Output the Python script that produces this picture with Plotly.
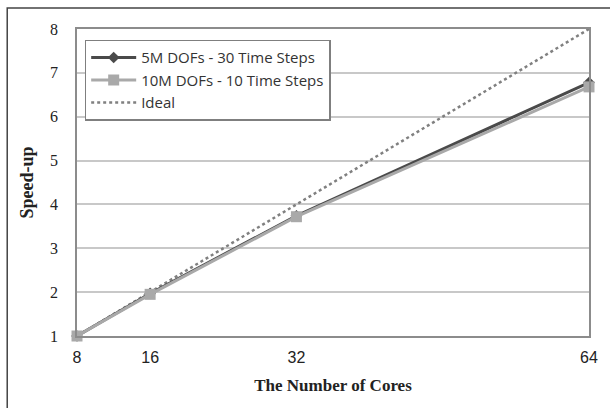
import plotly.graph_objects as go

cores = [8, 16, 32, 64]
speedup_5m = [1.0, 1.97, 3.74, 6.78]
speedup_10m = [1.0, 1.95, 3.72, 6.68]
ideal = [1, 2, 4, 8]
x_ticks = [8, 16, 32, 64]
y_ticks = [1, 2, 3, 4, 5, 6, 7, 8]

fig = go.Figure()
fig.add_trace(go.Scatter(x=cores, y=ideal, mode="lines", name="Ideal",
                         line=dict(color="#808080", width=2.5, dash="dot"), showlegend=False))
fig.add_trace(go.Scatter(x=cores, y=speedup_5m, mode="lines+markers", name="5M DOFs - 30 Time Steps",
                         line=dict(color="#4a4a4a", width=3),
                         marker=dict(symbol="diamond", size=9, color="#4a4a4a")))
fig.add_trace(go.Scatter(x=cores, y=speedup_10m, mode="lines+markers", name="10M DOFs - 10 Time Steps",
                         line=dict(color="#a9a9a9", width=3),
                         marker=dict(symbol="square", size=11, color="#a9a9a9")))
fig.add_trace(go.Scatter(x=[None], y=[None], mode="lines", name="Ideal",
                         line=dict(color="#808080", width=2.5, dash="dot")))
for tr in fig.data:
    tr.cliponaxis = False

fig.update_layout(
    width=610, height=408,
    margin=dict(l=77, r=12, t=29, b=72),
    paper_bgcolor="white", plot_bgcolor="white",
    showlegend=True,
    legend=dict(x=0.015, y=0.965, xanchor="left", yanchor="top",
                bordercolor="#7f7f7f", borderwidth=1.5, bgcolor="white",
                font=dict(family="Open Sans", size=15, color="#333"),
                tracegroupgap=0, itemwidth=45),
    xaxis=dict(range=[8, 64], tickvals=x_ticks, showgrid=False, zeroline=False,
               showline=True, linecolor="#8c8c8c", linewidth=1.5, mirror=True,
               ticks="outside", ticklen=6, tickcolor="rgba(0,0,0,0)",
               tickfont=dict(family="Liberation Sans Narrow, Liberation Sans", size=16, color="#222"),
               title=dict(text="<b>The Number of Cores</b>", standoff=14,
                          font=dict(family="Liberation Serif", size=17, color="#222"))),
    yaxis=dict(range=[1, 8], tickvals=y_ticks, showgrid=True, gridcolor="#c8c8c8", gridwidth=1.5,
               zeroline=False, showline=True, linecolor="#8c8c8c", linewidth=1.5, mirror=True,
               ticks="outside", ticklen=14, tickcolor="rgba(0,0,0,0)",
               tickfont=dict(family="Liberation Serif", size=16, color="#222"),
               title=dict(text="<b>Speed-up</b>", standoff=12,
                          font=dict(family="Liberation Serif", size=18, color="#222"))),
    shapes=[dict(type="rect", xref="paper", yref="paper",
                 x0=(6 - 77) / 521, x1=1.1, y0=-0.3, y1=1 + (29 - 8) / 307,
                 line=dict(color="#444", width=1.5), layer="below")],
)

fig.write_html("out.html")
